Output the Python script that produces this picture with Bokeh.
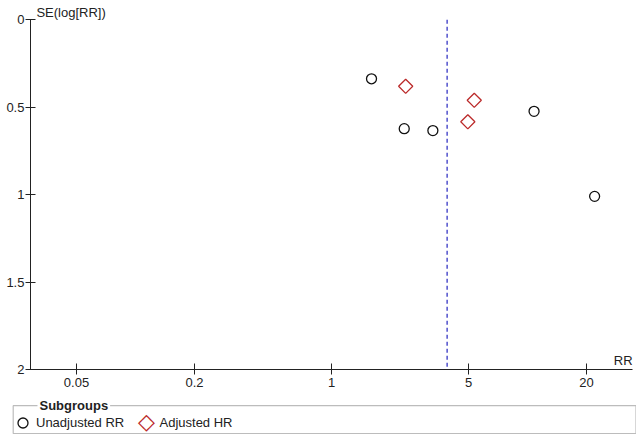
from bokeh.plotting import figure
from bokeh.models import (Range1d, FixedTicker, NumeralTickFormatter, Label,
                          Legend, LegendItem, BoxAnnotation, LinearAxis, LogAxis)
from bokeh.embed import file_html
from bokeh.resources import INLINE

# ---- data ----
unadj_rr = [1.60, 2.35, 3.29, 10.8, 22.0]
unadj_se = [0.337, 0.622, 0.633, 0.523, 1.009]
adj_hr = [2.39, 5.35, 4.96]
adj_se = [0.380, 0.460, 0.583]
pooled_rr = 3.89
x_ticks = [0.05, 0.2, 1, 5, 20]
y_ticks = [0, 0.5, 1, 1.5, 2]
x_ax_lo, x_ax_hi = 10 ** -1.536, 10 ** 1.536
y_ax_top, y_ax_bottom = 0, 2
FONT = "Liberation Sans"
W, H = 636, 437

p = figure(width=W, height=H, x_axis_type="log",
           x_range=Range1d(10 ** -1.6888, 10 ** 1.5561), y_range=Range1d(2.3869, -0.1103),
           output_backend="svg", toolbar_location=None,
           x_axis_location=None, y_axis_location=None,
           min_border=0)
p.outline_line_color = None
p.background_fill_color = "white"
p.border_fill_color = "white"
p.grid.visible = False

yaxis = LinearAxis(fixed_location=x_ax_lo, bounds=(y_ax_top, y_ax_bottom),
                   ticker=FixedTicker(ticks=y_ticks),
                   formatter=NumeralTickFormatter(format="0.[0]"),
                   major_tick_in=5, major_tick_out=5, major_label_standoff=1)
xaxis = LogAxis(fixed_location=y_ax_bottom, bounds=(x_ax_lo, x_ax_hi),
                ticker=FixedTicker(ticks=x_ticks),
                formatter=NumeralTickFormatter(format="0.[00]"),
                major_tick_in=6, major_tick_out=5, major_label_standoff=3)
for ax in (xaxis, yaxis):
    ax.axis_line_color = "#222222"
    ax.major_tick_line_color = "#222222"
    ax.minor_tick_line_color = None
    ax.major_label_text_font = FONT
    ax.major_label_text_font_size = "13px"
    ax.major_label_text_color = "#222222"
p.add_layout(yaxis, "left")
p.add_layout(xaxis, "below")

p.segment(x0=[pooled_rr], y0=[y_ax_top], x1=[pooled_rr], y1=[y_ax_bottom],
          line_color="#5050cc", line_dash="4 3", line_width=1.5)

r1 = p.scatter(unadj_rr, unadj_se, marker="circle", size=10, line_color="#111111",
               fill_color="white", line_width=1.3)
r2 = p.scatter(adj_hr, adj_se, marker="square", angle=0.7853981634, size=10,
               line_color="#bb2a2a", fill_color="white", line_width=1.3)

p.add_layout(Label(x=x_ax_lo, y=y_ax_top, x_offset=6, text="SE(log[RR])",
                   text_baseline="bottom", text_font=FONT, text_font_size="13px",
                   text_color="#222222"))
p.add_layout(Label(x=x_ax_hi, y=y_ax_bottom, y_offset=2, text="RR", text_align="right",
                   text_baseline="bottom", text_font=FONT, text_font_size="13px",
                   text_color="#222222"))

# legend frame with its title on the border (screen units, frame bottom-left origin)
p.add_layout(BoxAnnotation(left=12.7, right=635.5, top=31.8, bottom=4,
                           left_units="screen", right_units="screen",
                           top_units="screen", bottom_units="screen",
                           fill_alpha=0, line_color="#222222", line_width=1.2))
p.add_layout(Label(x=37, y=32, x_units="screen", y_units="screen", text="Subgroups",
                   text_baseline="middle", text_font=FONT, text_font_size="13px",
                   text_font_style="bold", text_color="#222222",
                   background_fill_color="white", padding=2))

legend = Legend(items=[LegendItem(label="Unadjusted RR", renderers=[r1])],
                orientation="horizontal", location=(10, 2.5),
                label_text_font=FONT, label_text_font_size="13px",
                label_text_color="#222222", glyph_width=25, glyph_height=25,
                label_standoff=1, spacing=10, padding=0, margin=0,
                border_line_color=None, background_fill_alpha=0)
p.add_layout(legend, "center")
# diamond key for the second subgroup (legend keys cannot be rotated in Bokeh)
p.add_layout(Label(x=146, y=16, x_units="screen", y_units="screen", text="\u25c7",
                   text_align="center", text_baseline="middle",
                   text_font="DejaVu Sans", text_font_size="22px", text_color="#bb2a2a"))
p.add_layout(Label(x=159, y=15, x_units="screen", y_units="screen", text="Adjusted HR",
                   text_baseline="middle", text_font=FONT, text_font_size="13px",
                   text_color="#222222"))

open("out.html", "w").write(file_html(p, INLINE))
